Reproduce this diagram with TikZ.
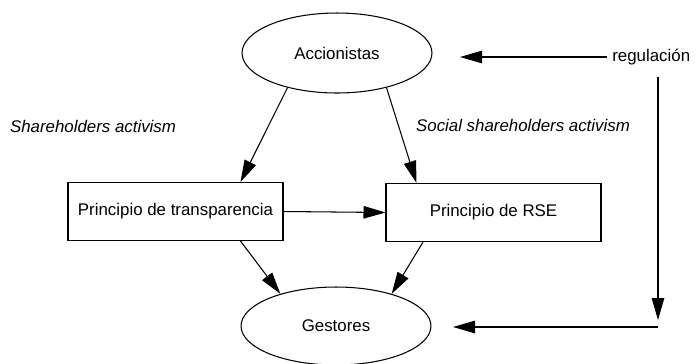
\documentclass[tikz,border=0pt]{standalone}
\usepackage{fontspec}
\setmainfont{Liberation Sans}
\usepackage{tikz}
\usetikzlibrary{arrows.meta,shapes.geometric,positioning}

\begin{document}
\begin{tikzpicture}[x=0.02cm, y=-0.02cm,
        actor/.style={ellipse, draw, line width=0.6pt, minimum width=3.8cm, minimum height=1.6cm, inner sep=0pt, font=\fontsize{9.6}{11.5}\selectfont},
        principle/.style={rectangle, draw, line width=0.6pt, minimum width=4.3cm, minimum height=1.16cm, inner sep=0pt, font=\fontsize{9.6}{11.5}\selectfont},
        arrow/.style={line width=0.6pt, -{Triangle[length=4.4mm, width=2.5mm]}},
        label/.style={inner sep=0pt, font=\fontsize{9.6}{11.5}\selectfont\itshape}
    ]

    % Fix the page size to the reference proportions
    \useasboundingbox (0,0) rectangle (700,363);

    % Actors
    \node[actor] (acc) at (337,53) {Accionistas};
    \node[actor, minimum height=1.56cm] (gest) at (336,326) {Gestores};

    % Principles
    \node[principle] (trans) at (175.5,211.5) {Principio de transparencia};
    \node[principle] (rse) at (493.5,212.5) {Principio de RSE};

    % Regulation on the right
    \node[anchor=west, inner xsep=0.1cm, inner ysep=0pt, font=\fontsize{9.6}{11.5}\selectfont] (reg) at (607,57) {regulación};
    \coordinate (regacc) at (460,57);
    \coordinate (regtop) at (658,77);
    \coordinate (regbot) at (658,320);
    \coordinate (regcorner) at (658,327);
    \coordinate (reggest) at (453,327);

    % Labels of the two activisms
    \node[label] (sha) at (93,126) {Shareholders activism};
    \node[label] (ssha) at (523,125) {Social shareholders activism};

    % Arrows
    \draw[arrow] (acc.215) -- ([xshift=1.3cm]trans.north);
    \draw[arrow] (acc.-35) -- ([xshift=-1.54cm]rse.north);
    \draw[arrow] (trans.east) -- (rse.west);
    \draw[arrow] ([xshift=1.3cm]trans.south) -- (gest.150);
    \draw[arrow] ([xshift=-1.41cm]rse.south) -- (gest.30);
    \draw[arrow] (reg.west) -- (regacc);
    \draw[arrow] (regtop) -- (regbot);
    \draw[arrow] (regcorner) -- (reggest);

\end{tikzpicture}
\end{document}
